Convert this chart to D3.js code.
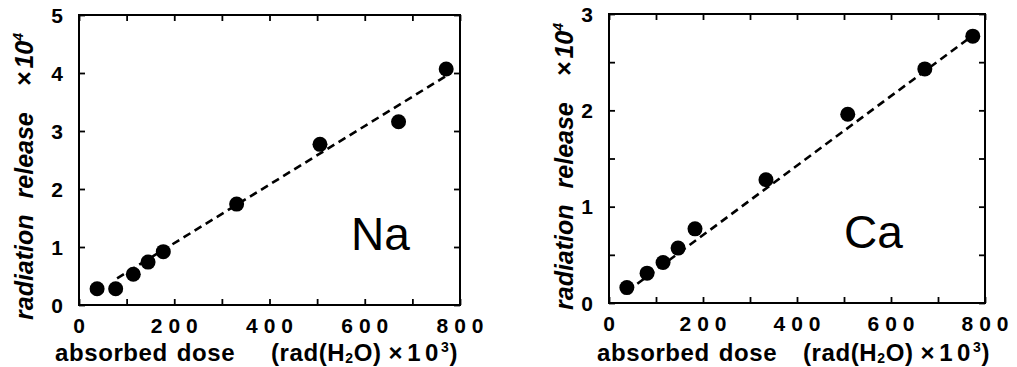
<!DOCTYPE html>
<html>
<head>
<meta charset="utf-8">
<script src="https://cdn.jsdelivr.net/npm/d3@7"></script>
<style>
  html, body { margin: 0; padding: 0; background: #fff; }
  svg { display: block; font-family: "Liberation Sans", Arial, Helvetica, sans-serif; }
</style>
</head>
<body>
<svg id="chart" width="1017" height="367"></svg>
<script>
// dose values (rad(H2O) x 10^3)
var naDose = [38, 77, 114, 145, 177, 331, 506, 671, 771];
var naRelease = [0.28, 0.28, 0.53, 0.74, 0.92, 1.74, 2.77, 3.16, 4.07];
var naFit = [[80, 0.46], [775, 3.97]];

var caDose = [38, 81, 115, 147, 183, 334, 508, 672, 774];
var caRelease = [0.16, 0.31, 0.42, 0.57, 0.77, 1.28, 1.96, 2.43, 2.77];
var caFit = [[38, 0.12], [775, 2.78]];

var xTicks = [0, 100, 200, 300, 400, 500, 600, 700, 800];
var xLabels = [0, 200, 400, 600, 800];
var naTicks = [0, 1, 2, 3, 4, 5];
var caTicks = [0, 0.5, 1, 1.5, 2, 2.5, 3];
var caLabels = [0, 1, 2, 3];

var svg = d3.select('#chart');

function drawPanel(p) {
    var g = svg.append('g');
    var x = d3.scaleLinear().domain([0, 800]).range([p.left, p.right]);
    var y = d3.scaleLinear().domain([0, p.yMax]).range([p.bottom, p.top]);

    // inward ticks on all four sides
    var tick = 6;
    g.append('g').attr('transform', 'translate(0,' + p.bottom + ')')
        .call(d3.axisBottom(x).tickValues(xTicks).tickSize(-tick).tickFormat(''));
    g.append('g').attr('transform', 'translate(0,' + p.top + ')')
        .call(d3.axisTop(x).tickValues(xTicks).tickSize(-tick).tickFormat(''));
    g.append('g').attr('transform', 'translate(' + p.left + ',0)')
        .call(d3.axisLeft(y).tickValues(p.yTicks).tickSize(-tick).tickFormat(''));
    g.append('g').attr('transform', 'translate(' + p.right + ',0)')
        .call(d3.axisRight(y).tickValues(p.yTicks).tickSize(-tick).tickFormat(''));
    g.selectAll('.domain').remove();
    g.selectAll('.tick line').attr('stroke', '#000').attr('stroke-width', 1.8);

    g.append('rect')
        .attr('x', p.left).attr('y', p.top)
        .attr('width', p.right - p.left).attr('height', p.bottom - p.top)
        .attr('fill', 'none').attr('stroke', '#000').attr('stroke-width', 2);

    // tick labels
    var ls = 6;
    g.selectAll('.xl').data(xLabels).enter().append('text')
        .attr('x', function (d) { return x(d) + ls / 2; })
        .attr('y', p.bottom + 28)
        .attr('text-anchor', 'middle')
        .style('font-size', '21px').style('font-weight', 'bold')
        .style('letter-spacing', ls + 'px')
        .text(function (d) { return d; });

    g.selectAll('.yl').data(p.yLabels).enter().append('text')
        .attr('x', p.left - 16)
        .attr('y', function (d) { return y(d) + 7.5; })
        .attr('text-anchor', 'end')
        .style('font-size', '21px').style('font-weight', 'bold')
        .text(function (d) { return d; });

    // fitted dashed line
    var line = d3.line().x(function (d) { return x(d[0]); }).y(function (d) { return y(d[1]); });
    g.append('path').datum(p.fit)
        .attr('d', line)
        .attr('fill', 'none').attr('stroke', '#000')
        .attr('stroke-width', 2.6).attr('stroke-dasharray', '8,5');

    // data points
    g.selectAll('circle').data(p.dose).enter().append('circle')
        .attr('cx', function (d) { return x(d); })
        .attr('cy', function (d, i) { return y(p.release[i]); })
        .attr('r', 7.5).attr('fill', '#000');

    // element label
    g.append('text')
        .attr('x', p.nameX).attr('y', p.nameY)
        .style('font-size', '46px')
        .text(p.name);

    // x title
    var xa = g.append('text')
        .attr('x', p.xTitleX).attr('y', 361)
        .style('font-size', '24px').style('font-weight', 'bold')
        .style('letter-spacing', '0.6px');
    xa.append('tspan').text('absorbed');
    xa.append('tspan').attr('dx', 9).text('dose');

    var xt = g.append('text')
        .attr('x', p.unitX).attr('y', 361)
        .style('font-size', '24px').style('font-weight', 'bold')
        .style('letter-spacing', '0.6px');
    xt.append('tspan').text('(rad(H');
    xt.append('tspan').attr('dy', 2).style('font-size', '14px').text('2');
    xt.append('tspan').attr('dy', -2).text('O)');
    xt.append('tspan').attr('dx', 7).text('\u00d7');
    xt.append('tspan').attr('dx', 4).text('1');
    xt.append('tspan').attr('dx', 4).text('0');
    xt.append('tspan').attr('dy', -9).attr('dx', 2).style('font-size', '14px').text('3');
    xt.append('tspan').attr('dy', 9).text(')');

    // y title
    var yt = g.append('text')
        .attr('transform', 'translate(' + p.yTitleX + ',' + p.yTitleY + ') rotate(-90)')
        .style('font-size', '25px').style('font-weight', 'bold').style('font-style', 'italic');
    yt.append('tspan').text('radiation');
    yt.append('tspan').attr('dx', 16).text('release');
    yt.append('tspan').attr('dx', 26).text('\u00d7');
    yt.append('tspan').attr('dx', 3).text('10');
    yt.append('tspan').attr('dy', -10).style('font-size', '14px').text('4');
}

drawPanel({
    left: 79, right: 460, top: 15, bottom: 305,
    yMax: 5, yTicks: naTicks, yLabels: naTicks,
    dose: naDose, release: naRelease, fit: naFit,
    name: 'Na', nameX: 351, nameY: 250,
    xTitleX: 55, unitX: 271, yTitleX: 33, yTitleY: 320
});

drawPanel({
    left: 609, right: 985, top: 14, bottom: 303,
    yMax: 3, yTicks: caTicks, yLabels: caLabels,
    dose: caDose, release: caRelease, fit: caFit,
    name: 'Ca', nameX: 844, nameY: 248,
    xTitleX: 597, unitX: 803, yTitleX: 573, yTitleY: 310
});
</script>
</body>
</html>
